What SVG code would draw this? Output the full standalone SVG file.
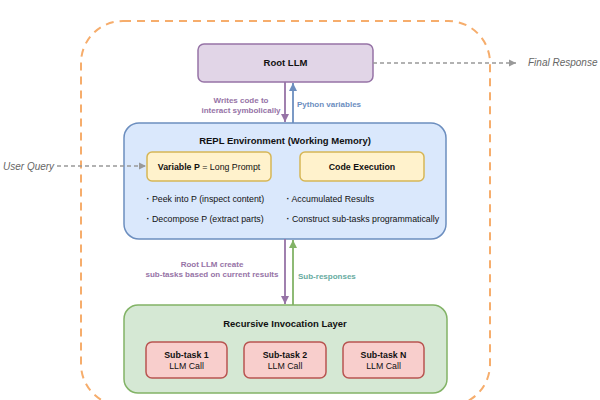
<svg xmlns="http://www.w3.org/2000/svg" width="600" height="400" viewBox="0 0 600 400">
  <style>
    text { font-family: "Liberation Sans", Arial, Helvetica, sans-serif; fill: #111; }
    .title { font-size: 9.5px; font-weight: bold; text-anchor: middle; }
    .lbl { font-size: 8.8px; text-anchor: middle; }
    .b { font-weight: bold; }
    .bullet { font-size: 8.8px; }
    .dot { font-weight: bold; }
    .edge { font-size: 8px; font-weight: bold; }
    .io { font-size: 10px; font-style: italic; fill: #666; }
    .purple { stroke: #9673a6; fill: #e1d5e7; }
    .blue { stroke: #6c8ebf; fill: #dae8fc; }
    .yellow { stroke: #d6b656; fill: #fff2cc; }
    .green { stroke: #82b366; fill: #d5e8d4; }
    .red { stroke: #b85450; fill: #f8cecc; }
    .box { stroke-width: 1.5; }
    .dash { stroke: #999; stroke-width: 1.5; stroke-dasharray: 4 3; fill: none; }
  </style>
  <defs>
    <marker id="ahPurple" viewBox="0 0 10 10" refX="10" refY="5" markerWidth="4.5" markerHeight="4.5" orient="auto">
      <path d="M0,0 L10,5 L0,10 z" fill="#9673a6"/>
    </marker>
    <marker id="ahBlue" viewBox="0 0 10 10" refX="10" refY="5" markerWidth="4.5" markerHeight="4.5" orient="auto">
      <path d="M0,0 L10,5 L0,10 z" fill="#6c8ebf"/>
    </marker>
    <marker id="ahGreen" viewBox="0 0 10 10" refX="10" refY="5" markerWidth="4.5" markerHeight="4.5" orient="auto">
      <path d="M0,0 L10,5 L0,10 z" fill="#82b366"/>
    </marker>
    <marker id="ahGray" viewBox="0 0 10 10" refX="10" refY="5" markerWidth="5" markerHeight="5" orient="auto">
      <path d="M0,0 L10,5 L0,10 z" fill="#999"/>
    </marker>
  </defs>

  <!-- outer system boundary -->
  <rect x="81" y="21" width="409" height="385" rx="42" fill="none" stroke="#f6ad6c" stroke-width="2" stroke-dasharray="8 6"/>

  <g id="root-llm">
    <rect class="purple box" x="198" y="44" width="175" height="38" rx="6"/>
    <text class="title" x="285.5" y="66" font-size="8.8">Root LLM</text>
  </g>

  <g id="repl">
    <rect class="blue box" x="124" y="123" width="322" height="116" rx="15"/>
    <text class="title" x="285" y="144">REPL Environment (Working Memory)</text>
    <text class="bullet" x="146.5" y="202"><tspan class="dot">·</tspan> Peek into P (inspect content)</text>
    <text class="bullet" x="146.5" y="222"><tspan class="dot">·</tspan> Decompose P (extract parts)</text>
    <text class="bullet" x="286.5" y="202"><tspan class="dot">·</tspan> Accumulated Results</text>
    <text class="bullet" x="286.5" y="222"><tspan class="dot">·</tspan> Construct sub-tasks programmatically</text>
  </g>

  <g id="variable-p">
    <rect class="yellow box" x="147" y="152" width="124" height="29" rx="5"/>
    <text class="lbl" x="209" y="169.5"><tspan class="b">Variable P</tspan> = Long Prompt</text>
  </g>

  <g id="code-execution">
    <rect class="yellow box" x="300" y="152" width="124" height="29" rx="5"/>
    <text class="lbl b" x="362" y="169.5">Code Execution</text>
  </g>

  <g id="recursive-layer">
    <rect class="green box" x="124" y="305" width="323" height="88" rx="14"/>
    <text class="title" x="285" y="326.5">Recursive Invocation Layer</text>
  </g>

  <g id="subtask-1">
    <rect class="red box" x="146" y="342" width="81" height="36" rx="6"/>
    <text class="lbl b" x="186.5" y="358">Sub-task 1</text>
    <text class="lbl" x="186.5" y="368.5">LLM Call</text>
  </g>
  <g id="subtask-2">
    <rect class="red box" x="244" y="342" width="82" height="36" rx="6"/>
    <text class="lbl b" x="285" y="358">Sub-task 2</text>
    <text class="lbl" x="285" y="368.5">LLM Call</text>
  </g>
  <g id="subtask-n">
    <rect class="red box" x="343" y="342" width="81" height="36" rx="6"/>
    <text class="lbl b" x="383.5" y="358">Sub-task N</text>
    <text class="lbl" x="383.5" y="368.5">LLM Call</text>
  </g>

  <g id="user-query">
    <text class="io" x="3" y="169.5">User Query</text>
  </g>
  <g id="final-response">
    <text class="io" x="528" y="66">Final Response</text>
  </g>

  <g id="connectors">
    <line x1="285" y1="82" x2="285" y2="122" stroke="#9673a6" stroke-width="1.8" marker-end="url(#ahPurple)"/>
    <line x1="293" y1="123" x2="293" y2="83" stroke="#6c8ebf" stroke-width="1.8" marker-end="url(#ahBlue)"/>
    <line x1="285" y1="239" x2="285" y2="304" stroke="#9673a6" stroke-width="1.8" marker-end="url(#ahPurple)"/>
    <line x1="293" y1="305" x2="293" y2="240" stroke="#82b366" stroke-width="1.8" marker-end="url(#ahGreen)"/>
    <line class="dash" x1="373" y1="63" x2="516" y2="63" marker-end="url(#ahGray)"/>
    <line class="dash" x1="57" y1="166" x2="146" y2="166" marker-end="url(#ahGray)"/>

    <text class="edge" x="241" y="103" text-anchor="middle" style="fill:#9673a6">Writes code to</text>
    <text class="edge" x="241" y="113" text-anchor="middle" style="fill:#9673a6">interact symbolically</text>
    <text class="edge" x="297" y="107" style="fill:#6c8ebf">Python variables</text>
    <text class="edge" x="212" y="267" text-anchor="middle" style="fill:#9673a6">Root LLM create</text>
    <text class="edge" x="212" y="276.5" text-anchor="middle" style="fill:#9673a6">sub-tasks based on current results</text>
    <text class="edge" x="298" y="279" style="fill:#67ab9f">Sub-responses</text>
  </g>
</svg>
